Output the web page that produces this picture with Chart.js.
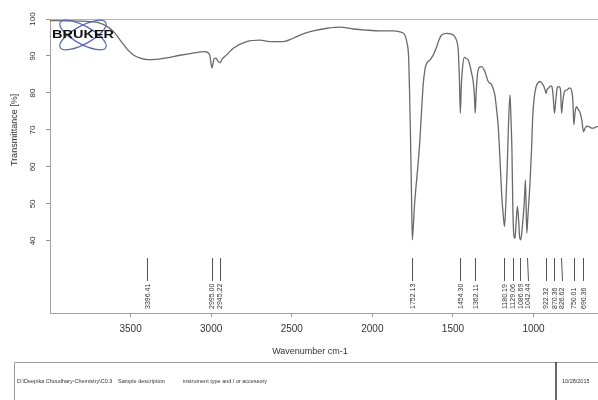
<!DOCTYPE html>
<html>
<head>
<meta charset="utf-8">
<title>IR spectrum</title>
<script src="https://cdn.jsdelivr.net/npm/chart.js@4.4.0/dist/chart.umd.min.js"></script>
<style>
  html, body { margin: 0; padding: 0; background: #fff; }
  #wrap { width: 598px; height: 400px; }
</style>
</head>
<body>
<div id="wrap"><canvas id="irChart" width="598" height="400"></canvas></div>
<script>
// Spectrum: wavenumber (cm-1) and transmittance (%)
const wavenumbers = [
  4000, 3900, 3800, 3700, 3640, 3600, 3560, 3520, 3480, 3440, 3396, 3340, 3287, 3194, 3113, 3040,
  3010, 2995, 2982, 2970, 2958, 2945, 2930, 2904, 2863, 2780, 2697, 2635, 2553, 2491, 2430, 2367,
  2280, 2201, 2118, 2040, 1953, 1870, 1829, 1800, 1785, 1775, 1765, 1758, 1752, 1746, 1738, 1729,
  1718, 1705, 1695, 1684, 1673, 1663, 1643, 1622, 1601, 1585, 1570, 1539, 1510, 1488, 1475, 1467,
  1460, 1454, 1448, 1440, 1430, 1419, 1405, 1395, 1384, 1374, 1367, 1362, 1356, 1348, 1335, 1322,
  1310, 1302, 1281, 1260, 1240, 1228, 1219, 1208, 1198, 1188, 1180, 1172, 1163, 1155, 1146, 1140,
  1134, 1128, 1122, 1115, 1108, 1100, 1093, 1086, 1079, 1070, 1058, 1050, 1042, 1036, 1022, 1012,
  1005, 995, 984, 970, 960, 948, 935, 927, 922, 915, 907, 895, 886, 878, 870, 862,
  853, 845, 838, 832, 826, 819, 808, 792, 780, 771, 762, 756, 750, 743, 734, 722,
  710, 700, 690, 682, 670, 656, 640, 627, 612, 600
];
const transmittance = [
  99.6, 99.5, 99.4, 99.0, 97.8, 96.3, 94.0, 91.8, 90.2, 89.4, 89.0, 89.1, 89.4, 90.2, 90.8, 91.2,
  90.4, 86.8, 89.2, 89.4, 88.6, 88.2, 89.3, 90.3, 92.1, 93.9, 94.3, 93.9, 93.9, 94.8, 96.0, 96.8,
  97.5, 97.8, 97.3, 97.0, 96.8, 96.8, 96.5, 95.8, 93.5, 89.5, 72.0, 55.0, 40.3, 44.0, 50.0, 54.7,
  60.0, 67.3, 75.0, 82.6, 86.5, 88.0, 88.9, 90.3, 92.5, 94.5, 95.7, 96.1, 95.9, 95.2, 93.8, 91.5,
  84.0, 74.5, 82.0, 87.0, 89.6, 89.4, 88.9, 87.5, 85.3, 83.0, 79.5, 74.5, 80.0, 85.0, 87.0, 87.1,
  86.5, 85.8, 83.1, 82.2, 79.5, 75.0, 70.9, 62.0, 52.9, 47.0, 43.9, 50.0, 60.1, 72.0, 79.5, 73.0,
  64.6, 48.0, 41.5, 40.7, 45.0, 49.3, 46.0, 41.0, 40.3, 43.5, 50.0, 56.5, 42.1, 46.0, 55.6, 65.0,
  73.6, 79.0, 81.7, 82.9, 83.1, 82.6, 81.7, 80.6, 79.9, 81.0, 81.3, 81.9, 81.7, 79.0, 74.5, 78.0,
  81.4, 81.7, 81.6, 80.5, 74.5, 77.5, 80.4, 80.8, 81.3, 81.3, 80.2, 78.0, 71.4, 74.5, 76.3, 75.5,
  74.5, 72.5, 69.5, 70.3, 71.0, 70.9, 70.5, 70.5, 70.8, 70.9
];

// Peak picking labels
const peakPositions = [3396.41, 2995.00, 2945.22, 1752.13, 1454.30, 1362.11, 1180.19, 1129.06,
  1086.69, 1042.44, 922.32, 870.36, 826.62, 750.01, 690.36];
const peakLabels = ["3396.41", "2995.00", "2945.22", "1752.13", "1454.30", "1362.11", "1180.19", "1129.06",
  "1086.69", "1042.44", "922.32", "870.36", "826.62", "750.01", "690.36"];

// Axis ticks
const xTicks = [3500, 3000, 2500, 2000, 1500, 1000];
const yTicks = [40, 50, 60, 70, 80, 90, 100];

// Footer strip texts
const footerTexts = ["D:\\Deepika Choudhary-Chemistry\\C0.3", "Sample description",
  "instrument type and / or accessory", "10/28/2015"];

const FONT = '"Liberation Sans", Arial, sans-serif';

const spectrum = wavenumbers.map((w, i) => ({ x: w, y: transmittance[i] }));

// Extra drawing: frame, peak labels, titles, footer, logo
const brukerDecor = {
  id: 'brukerDecor',
  beforeDraw(chart) {
    const ctx = chart.ctx;
    ctx.save();
    ctx.fillStyle = '#fff';
    ctx.fillRect(0, 0, chart.width, chart.height);
    ctx.restore();
  },
  afterDraw(chart) {
    const ctx = chart.ctx;
    const area = chart.chartArea;
    const xs = chart.scales.x;
    const ys = chart.scales.y;
    ctx.save();

    // top frame line
    ctx.strokeStyle = '#b5b5b5';
    ctx.lineWidth = 1;
    ctx.beginPath();
    ctx.moveTo(area.left, area.top + 0.5);
    ctx.lineTo(area.right, area.top + 0.5);
    ctx.stroke();

    // peak markers, labels pushed apart when crowded
    let lastX = -100;
    const labelX = peakPositions.map(p => {
      let px = xs.getPixelForValue(p);
      if (px < lastX + 7.5) px = lastX + 7.5;
      lastX = px;
      return px;
    });
    ctx.strokeStyle = '#555';
    ctx.lineWidth = 1;
    peakPositions.forEach((p, i) => {
      const px = Math.round(xs.getPixelForValue(p)) + 0.5;
      const lx = Math.round(labelX[i]) + 0.5;
      ctx.beginPath();
      ctx.moveTo(px, 258);
      if (Math.abs(lx - px) > 1) {
        ctx.lineTo(px, 264);
        ctx.bezierCurveTo(px, 270, lx, 268, lx, 274);
      }
      ctx.lineTo(lx, 281);
      ctx.stroke();
    });
    ctx.fillStyle = '#333';
    ctx.font = '7px ' + FONT;
    ctx.textAlign = 'left';
    ctx.textBaseline = 'middle';
    peakLabels.forEach((t, i) => {
      ctx.save();
      ctx.translate(labelX[i] + 0.5, 309);
      ctx.rotate(-Math.PI / 2);
      ctx.fillText(t, 0, 0);
      ctx.restore();
    });

    // y axis title, centred on the 40..100 range
    const yMid = (ys.getPixelForValue(yTicks[0]) + ys.getPixelForValue(yTicks[yTicks.length - 1])) / 2;
    ctx.save();
    ctx.translate(15, yMid);
    ctx.rotate(-Math.PI / 2);
    ctx.font = '9px ' + FONT;
    ctx.textAlign = 'center';
    ctx.fillStyle = '#333';
    ctx.fillText('Transmittance [%]', 0, 0);
    ctx.restore();

    // x axis title
    ctx.font = '9px ' + FONT;
    ctx.textAlign = 'center';
    ctx.textBaseline = 'middle';
    ctx.fillStyle = '#333';
    ctx.fillText('Wavenumber cm-1', 310, 352);

    // footer strip
    ctx.strokeStyle = '#9a9a9a';
    ctx.lineWidth = 1;
    ctx.beginPath();
    ctx.moveTo(14.5, 400);
    ctx.lineTo(14.5, 362.5);
    ctx.lineTo(598, 362.5);
    ctx.stroke();
    ctx.strokeStyle = '#333';
    ctx.lineWidth = 1.5;
    ctx.beginPath();
    ctx.moveTo(556, 362);
    ctx.lineTo(556, 400);
    ctx.stroke();
    ctx.font = '5.5px ' + FONT;
    ctx.textAlign = 'left';
    ctx.fillStyle = '#333';
    [17, 118, 183, 562].forEach((fx, i) => ctx.fillText(footerTexts[i], fx, 381));

    // BRUKER logo
    ctx.strokeStyle = '#5a68b2';
    ctx.lineWidth = 1.2;
    ctx.beginPath();
    ctx.ellipse(83, 35, 26, 9, 0.5, 0, Math.PI * 2);
    ctx.stroke();
    ctx.beginPath();
    ctx.ellipse(83, 35, 26, 9, -0.5, 0, Math.PI * 2);
    ctx.stroke();
    ctx.save();
    ctx.translate(52, 35);
    ctx.scale(1.45, 1);
    ctx.font = 'bold 10px ' + FONT;
    ctx.fillStyle = '#111';
    ctx.textBaseline = 'middle';
    ctx.fillText('BRUKER', 0, 0);
    ctx.restore();

    ctx.restore();
  }
};

new Chart(document.getElementById('irChart'), {
  type: 'line',
  data: {
    datasets: [{
      data: spectrum,
      borderColor: '#6a6a6a',
      borderWidth: 1.3,
      pointRadius: 0,
      fill: false,
      cubicInterpolationMode: 'monotone'
    }]
  },
  options: {
    responsive: false,
    animation: false,
    devicePixelRatio: 1,
    layout: { padding: { top: 19, left: 0, right: 0, bottom: 0 } },
    plugins: {
      legend: { display: false },
      tooltip: { enabled: false }
    },
    scales: {
      x: {
        type: 'linear',
        reverse: true,
        min: 600,
        max: 4000,
        afterBuildTicks: scale => { scale.ticks = xTicks.map(v => ({ value: v })); },
        afterFit: scale => { scale.height = 87; },
        grid: { drawOnChartArea: false, tickLength: 4, color: '#999' },
        border: { display: true, color: '#a0a0a0' },
        ticks: {
          autoSkip: false, maxRotation: 0, minRotation: 0, padding: 6,
          color: '#333', font: { family: FONT, size: 10 },
          callback: value => String(value)
        }
      },
      y: {
        type: 'linear',
        min: 20.5,
        max: 100,
        afterBuildTicks: scale => { scale.ticks = yTicks.map(v => ({ value: v })); },
        afterFit: scale => { scale.width = 50; },
        grid: { drawOnChartArea: false, tickLength: 4, color: '#999' },
        border: { display: true, color: '#a0a0a0' },
        ticks: {
          autoSkip: false, minRotation: 90, maxRotation: 90, crossAlign: 'center', padding: 7,
          color: '#333', font: { family: FONT, size: 8 },
          callback: value => String(value)
        }
      }
    }
  },
  plugins: [brukerDecor]
});
</script>
</body>
</html>
